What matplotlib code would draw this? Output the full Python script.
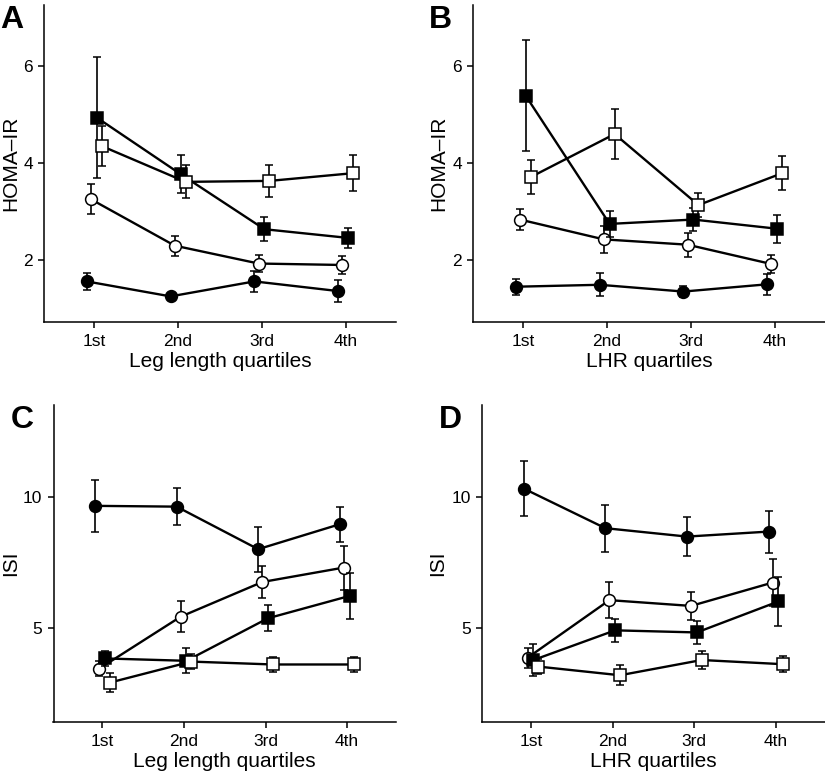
import matplotlib
matplotlib.use("Agg")
import matplotlib.pyplot as plt
import numpy as np

plt.rcParams['font.family'] = ['Liberation Sans', 'DejaVu Sans']

quartiles = ["1st", "2nd", "3rd", "4th"]
series_names = ["filled circle", "open circle", "filled square", "open square"]

# Panel A: HOMA-IR by leg length quartiles
a_fc = [1.55, 1.24, 1.55, 1.35]
a_fc_err = [0.18, 0.05, 0.22, 0.22]
a_oc = [3.25, 2.29, 1.92, 1.89]
a_oc_err = [0.31, 0.21, 0.17, 0.18]
a_fs = [4.94, 3.77, 2.63, 2.45]
a_fs_err = [1.25, 0.40, 0.25, 0.20]
a_os = [4.35, 3.61, 3.63, 3.79]
a_os_err = [0.42, 0.34, 0.33, 0.37]

# Panel B: HOMA-IR by LHR quartiles
b_fc = [1.44, 1.48, 1.34, 1.49]
b_fc_err = [0.17, 0.24, 0.11, 0.22]
b_oc = [2.83, 2.42, 2.31, 1.91]
b_oc_err = [0.22, 0.28, 0.25, 0.18]
b_fs = [5.39, 2.74, 2.83, 2.64]
b_fs_err = [1.15, 0.27, 0.24, 0.29]
b_os = [3.71, 4.60, 3.13, 3.79]
b_os_err = [0.35, 0.52, 0.24, 0.35]

# Panel C: ISI by leg length quartiles
c_fc = [9.66, 9.63, 8.01, 8.96]
c_fc_err = [1.00, 0.70, 0.85, 0.67]
c_oc = [3.46, 5.44, 6.76, 7.31]
c_oc_err = [0.28, 0.60, 0.61, 0.84]
c_fs = [3.85, 3.76, 5.38, 6.23]
c_fs_err = [0.29, 0.48, 0.50, 0.87]
c_os = [2.93, 3.73, 3.62, 3.62]
c_os_err = [0.36, 0.30, 0.30, 0.27]

# Panel D: ISI by LHR quartiles
d_fc = [10.32, 8.81, 8.49, 8.68]
d_fc_err = [1.04, 0.90, 0.75, 0.80]
d_oc = [3.88, 6.07, 5.85, 6.74]
d_oc_err = [0.38, 0.68, 0.52, 0.88]
d_fs = [3.79, 4.92, 4.84, 6.02]
d_fs_err = [0.60, 0.44, 0.45, 0.93]
d_os = [3.54, 3.21, 3.79, 3.63]
d_os_err = [0.30, 0.39, 0.33, 0.30]

panels = [
    dict(letter="A", xlabel="Leg length quartiles", ylabel="HOMA\u2013IR",
         ylim=(0.71, 7.27), yticks=[2, 4, 6], ylabel_x=-0.068,
         data=[(a_fc, a_fc_err), (a_oc, a_oc_err), (a_fs, a_fs_err), (a_os, a_os_err)],
         rect=[44/825, 1-322/773, (396-44)/825, 317/773]),
    dict(letter="B", xlabel="LHR quartiles", ylabel="HOMA\u2013IR",
         ylim=(0.71, 7.27), yticks=[2, 4, 6], ylabel_x=-0.071,
         data=[(b_fc, b_fc_err), (b_oc, b_oc_err), (b_fs, b_fs_err), (b_os, b_os_err)],
         rect=[473/825, 1-322/773, (825-473)/825, 317/773]),
    dict(letter="C", xlabel="Leg length quartiles", ylabel="ISI",
         ylim=(1.43, 13.5), yticks=[5, 10], ylabel_x=-0.098,
         data=[(c_fc, c_fc_err), (c_oc, c_oc_err), (c_fs, c_fs_err), (c_os, c_os_err)],
         rect=[53.5/825, 1-722/773, (396-53.5)/825, 317/773]),
    dict(letter="D", xlabel="LHR quartiles", ylabel="ISI",
         ylim=(1.43, 13.5), yticks=[5, 10], ylabel_x=-0.102,
         data=[(d_fc, d_fc_err), (d_oc, d_oc_err), (d_fs, d_fs_err), (d_os, d_os_err)],
         rect=[482/825, 1-722/773, (825-482)/825, 317/773]),
]

offsets = [-0.09, -0.04, 0.03, 0.09]
styles = [
    dict(marker="o", mfc="black", ms=8.5),
    dict(marker="o", mfc="white", ms=8.5),
    dict(marker="s", mfc="black", ms=8),
    dict(marker="s", mfc="white", ms=8),
]

fig = plt.figure(figsize=(8.25, 7.73), dpi=100)
x = np.arange(len(quartiles))
for p in panels:
    ax = fig.add_axes(p["rect"])
    for k, ((vals, errs), st) in enumerate(zip(p["data"], styles)):
        ax.errorbar(x + offsets[k], vals, yerr=errs, color="black", lw=1.7,
                    elinewidth=1.2, capsize=2.8, capthick=1.5,
                    marker=st["marker"], mfc=st["mfc"], mec="black", mew=1.1,
                    ms=st["ms"], zorder=2 + k, label=series_names[k])
    ax.set_xlim(-0.6, 3.6)
    ax.set_ylim(*p["ylim"])
    ax.set_yticks(p["yticks"])
    ax.set_xticks(x)
    ax.set_xticklabels(quartiles)
    ax.spines["top"].set_visible(False)
    ax.spines["right"].set_visible(False)
    for s in ("left", "bottom"):
        ax.spines[s].set_linewidth(1.1)
    ax.tick_params(axis="both", direction="out", length=4.5, width=1.1,
                   labelsize=12.5, pad=3.5)
    ax.tick_params(axis="x", pad=4.5)
    ax.set_xlabel(p["xlabel"], fontsize=15, labelpad=1.5)
    ax.set_ylabel(p["ylabel"], fontsize=15)
    ax.yaxis.set_label_coords(p["ylabel_x"], 0.5)
    ax.text(-0.125, 1.0, p["letter"], transform=ax.transAxes, fontsize=23,
            fontweight="bold", va="top", ha="left")

fig.savefig("out.png", dpi=100)
